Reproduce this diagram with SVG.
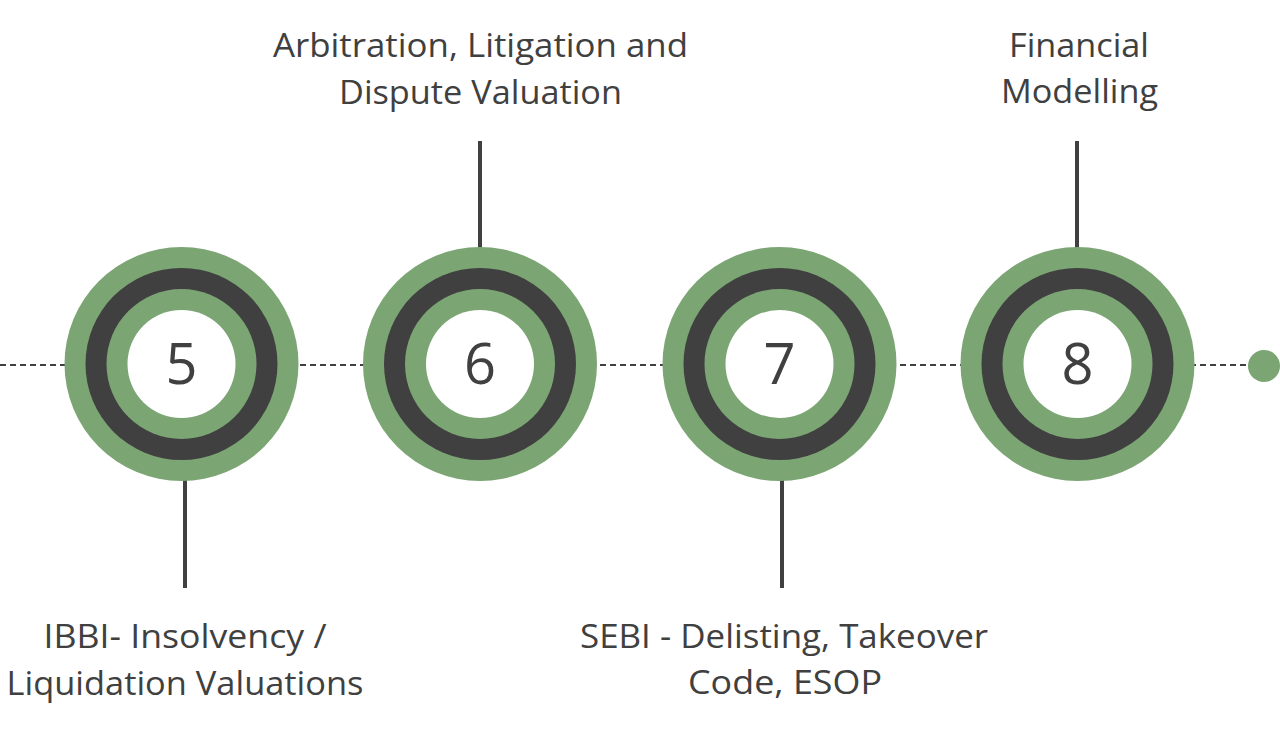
<svg xmlns="http://www.w3.org/2000/svg" width="1280" height="731" viewBox="0 0 1280 731">
<style>
.g{fill:#7ca574}
.d{fill:#404040}
.w{fill:#ffffff}
.lbl{font-family:"Open Sans","Liberation Sans",sans-serif;font-size:32px;fill:#404040;text-anchor:middle}
.num{font-family:"Open Sans","Liberation Sans",sans-serif;font-size:56px;fill:#404040;text-anchor:middle}
.stem{stroke:#404040;stroke-width:4;fill:none}
.dash{stroke:#404040;stroke-width:2;stroke-dasharray:6 4;fill:none}
</style>
<defs>
<g id="ring">
<circle r="117" class="g"/>
<circle r="96" class="d"/>
<circle r="75" class="g"/>
<circle r="54" class="w"/>
</g>
</defs>
<rect width="1280" height="731" fill="#ffffff"/>
<g id="connectors">
<line class="dash" x1="0" y1="365" x2="1250" y2="365"/>
<line class="stem" x1="185" y1="470" x2="185" y2="588"/>
<line class="stem" x1="480" y1="141" x2="480" y2="260"/>
<line class="stem" x1="782" y1="470" x2="782" y2="588"/>
<line class="stem" x1="1077" y1="141" x2="1077" y2="260"/>
</g>
<g id="node5">
<use href="#ring" x="181.5" y="364"/>
<text class="num" x="181.5" y="384">5</text>
<text class="lbl" x="185" y="648" textLength="283" lengthAdjust="spacingAndGlyphs">IBBI- Insolvency /</text>
<text class="lbl" x="185" y="695" textLength="357" lengthAdjust="spacingAndGlyphs">Liquidation Valuations</text>
</g>
<g id="node6">
<use href="#ring" x="480" y="364"/>
<text class="num" x="480" y="384">6</text>
<text class="lbl" x="480.5" y="57" textLength="415" lengthAdjust="spacingAndGlyphs">Arbitration, Litigation and</text>
<text class="lbl" x="480.5" y="104" textLength="283" lengthAdjust="spacingAndGlyphs">Dispute Valuation</text>
</g>
<g id="node7">
<use href="#ring" x="779.5" y="364"/>
<text class="num" x="779.5" y="384">7</text>
<text class="lbl" x="784" y="648" textLength="408" lengthAdjust="spacingAndGlyphs">SEBI - Delisting, Takeover</text>
<text class="lbl" x="785" y="694" textLength="194" lengthAdjust="spacingAndGlyphs">Code, ESOP</text>
</g>
<g id="node8">
<use href="#ring" x="1077.5" y="364"/>
<text class="num" x="1077.5" y="384">8</text>
<text class="lbl" x="1079" y="57" textLength="140" lengthAdjust="spacingAndGlyphs">Financial</text>
<text class="lbl" x="1079.5" y="103" textLength="157" lengthAdjust="spacingAndGlyphs">Modelling</text>
</g>
<g id="end-dot">
<circle class="g" cx="1264" cy="366" r="16"/>
</g>
</svg>
